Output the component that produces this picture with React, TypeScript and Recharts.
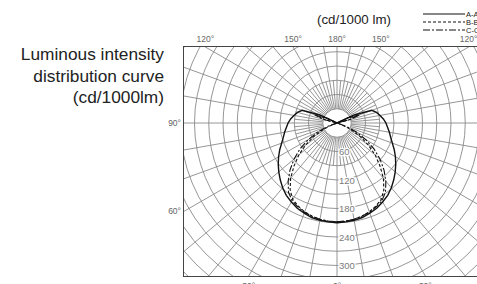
import React from 'react';
import { RadarChart, Radar, PolarGrid, PolarAngleAxis, PolarRadiusAxis } from 'recharts';

// luminaire angle in degrees, 0 = straight down, 180 = straight up
const THETA = [
  0, 5, 10, 15, 20, 25, 30, 35, 40, 45, 50, 55, 60, 65, 70, 75, 80, 85, 90,
  95, 100, 105, 110, 115, 120, 125, 130, 135, 140, 145, 150, 155, 160, 165, 170, 175, 180,
];

// cd/1000 lm (same on both sides)
const CURVE_A = [
  210, 209, 208, 206, 202, 198, 192, 186, 178, 169, 160, 151, 142, 133, 124, 117, 112, 107, 103,
  98, 92, 86, 78, 40, 0, 0, 0, 0, 0, 0, 0, 0, 0, 0, 0, 0, 0,
];
const CURVE_B = [
  208, 208, 206, 203, 199, 193, 186, 172, 152, 128, 105, 80, 56, 32, 10, 0, 0, 0, 0,
  0, 0, 25, 45, 25, 0, 0, 0, 0, 0, 0, 0, 0, 0, 0, 0, 0, 0,
];
const CURVE_C = [
  208, 207, 206, 203, 200, 195, 189, 178, 160, 140, 118, 95, 70, 45, 20, 0, 0, 0, 0,
  0, 0, 30, 50, 30, 0, 0, 0, 0, 0, 0, 0, 0, 0, 0, 0, 0, 0,
];

const RING_TICKS = [30, 60, 90, 120, 150, 180, 210, 240, 270, 300, 330, 360, 390, 420, 450, 480];
const RING_LABELS = [60, 120, 180, 240, 300];
const ANGLE_LABELS = [0, 30, 60, 90, 120, 150, 180];
const SERIES = ['A', 'B', 'C'];

const W = 477;
const H = 284;
const FRAME = { left: 184, top: 47, bottom: 276 };
const CX = 337;
const CY = 123;
const PX_PER_CD = 0.475;
const STEP = 5;

// full circle, going counter-clockwise from the bottom
const data = Array.from({ length: 360 / STEP }, (_, i) => {
  const phi = i * STEP;
  const t = phi <= 180 ? phi : 360 - phi;
  const k = THETA.indexOf(t);
  return { phi, A: CURVE_A[k], B: CURVE_B[k], C: CURVE_C[k] };
});

const outerLines = Array.from({ length: 36 }, (_, i) => -90 + i * 10);
const innerLines = Array.from({ length: 36 }, (_, i) => -85 + i * 10);

const ringTick = (props: any) => {
  const { x, y, payload } = props;
  if (!RING_LABELS.includes(payload.value)) return <g />;
  return (
    <text x={x + 2} y={y} dy={3.5} fontSize={9.5} fill="#7a7a7a" stroke="#fff" strokeWidth={2.5}
      paintOrder="stroke" fontFamily="Liberation Sans, Arial, sans-serif">
      {payload.value}
    </text>
  );
};

// where an angle ray leaves the frame, for the degree labels
function edgeLabel(theta: number, side: number) {
  const dx = side * Math.sin((theta * Math.PI) / 180);
  const dy = Math.cos((theta * Math.PI) / 180);
  let best = Infinity;
  let edge = '';
  if (dy < -1e-6) { const t = (FRAME.top - CY) / dy; if (t < best) { best = t; edge = 'top'; } }
  if (dy > 1e-6) { const t = (FRAME.bottom - CY) / dy; if (t < best) { best = t; edge = 'bottom'; } }
  if (dx < -1e-6) { const t = (FRAME.left - CX) / dx; if (t < best) { best = t; edge = 'left'; } }
  if (!isFinite(best)) return null;
  return { x: CX + dx * best, y: CY + dy * best, edge };
}

const chartProps = {
  width: 320,
  height: 240,
  data,
  cx: CX - FRAME.left,
  cy: CY - FRAME.top,
  startAngle: -90,
  endAngle: 270,
  margin: { top: 0, right: 0, bottom: 0, left: 0 },
};

export default function App() {
  const labels: any[] = [];
  ANGLE_LABELS.forEach((a) => {
    const sides = a === 0 || a === 180 ? [1] : [-1, 1];
    sides.forEach((s) => {
      const p = edgeLabel(a, s);
      if (p) labels.push({ ...p, text: `${a}°`, key: `${a}-${s}` });
    });
  });

  return (
    <div style={{ position: 'fixed', left: 0, top: 0, width: W, height: H, overflow: 'hidden', background: '#fff', fontFamily: 'Liberation Sans, Arial, sans-serif' }}>
      <div style={{ position: 'absolute', left: 0, top: 44, width: 164, textAlign: 'right', fontSize: 17.3, lineHeight: '21.5px', color: '#222' }}>
        Luminous intensity<br />distribution curve<br />(cd/1000lm)
      </div>
      <div style={{ position: 'absolute', left: 317, top: 12, fontSize: 13.3, lineHeight: '16px', color: '#222' }}>
        (cd/1000 lm)
      </div>

      <div style={{ position: 'absolute', left: FRAME.left, top: FRAME.top, width: W - FRAME.left, height: FRAME.bottom - FRAME.top, overflow: 'hidden' }}>
        {/* fine 5° lines near the centre */}
        <div style={{ position: 'absolute', left: 0, top: 0 }}>
          <RadarChart {...chartProps} innerRadius={30 * PX_PER_CD} outerRadius={90 * PX_PER_CD}>
            <PolarGrid gridType="circle" polarAngles={innerLines} polarRadius={[]} stroke="#8a8a8a" strokeWidth={0.9} />
          </RadarChart>
        </div>
        <div style={{ position: 'absolute', left: 0, top: 0 }}>
          <RadarChart {...chartProps} innerRadius={30 * PX_PER_CD} outerRadius={480 * PX_PER_CD}>
            <PolarGrid gridType="circle" polarAngles={outerLines} stroke="#8a8a8a" strokeWidth={0.9} />
            <PolarAngleAxis dataKey="phi" type="number" domain={[0, 360]} allowDataOverflow
              tick={false} axisLine={false} tickLine={false} />
            <PolarRadiusAxis angle={-90} type="number" domain={[30, 480]} allowDataOverflow ticks={RING_TICKS}
              axisLine={false} tickLine={false} tick={ringTick} />
            <Radar dataKey="A" stroke="#111" strokeWidth={1.4} fill="none" dot={false} isAnimationActive={false} />
            <Radar dataKey="B" stroke="#111" strokeWidth={1.1} strokeDasharray="3 2" fill="none" dot={false} isAnimationActive={false} />
            <Radar dataKey="C" stroke="#111" strokeWidth={1.1} strokeDasharray="7 2 2 2" fill="none" dot={false} isAnimationActive={false} />
          </RadarChart>
        </div>
      </div>

      <div style={{ position: 'absolute', left: FRAME.left - 1, top: FRAME.top - 1, width: W, height: FRAME.bottom - FRAME.top, borderLeft: '1.5px solid #444', borderTop: '1.5px solid #444', borderBottom: '1.5px solid #444' }} />

      <svg width={W} height={H} style={{ position: 'absolute', left: 0, top: 0, pointerEvents: 'none' }}>
        {labels.map((l) => {
          if (l.edge === 'top') return <text key={l.key} x={l.x} y={FRAME.top - 5} textAnchor="middle" fontSize={8.5} fill="#666">{l.text}</text>;
          if (l.edge === 'bottom') return <text key={l.key} x={l.x} y={FRAME.bottom + 13} textAnchor="middle" fontSize={8.5} fill="#666">{l.text}</text>;
          return <text key={l.key} x={FRAME.left - 3} y={l.y + 3} textAnchor="end" fontSize={8.5} fill="#666">{l.text}</text>;
        })}
        {SERIES.map((s, i) => (
          <g key={s}>
            <line x1={423} x2={465} y1={14 + i * 8} y2={14 + i * 8} stroke="#111" strokeWidth={1}
              strokeDasharray={i === 0 ? undefined : i === 1 ? '3 2' : '7 2 2 2'} />
            <text x={466} y={16.5 + i * 8} fontSize={7.5} fill="#222">{`${s}-${s}'`}</text>
          </g>
        ))}
      </svg>
    </div>
  );
}
